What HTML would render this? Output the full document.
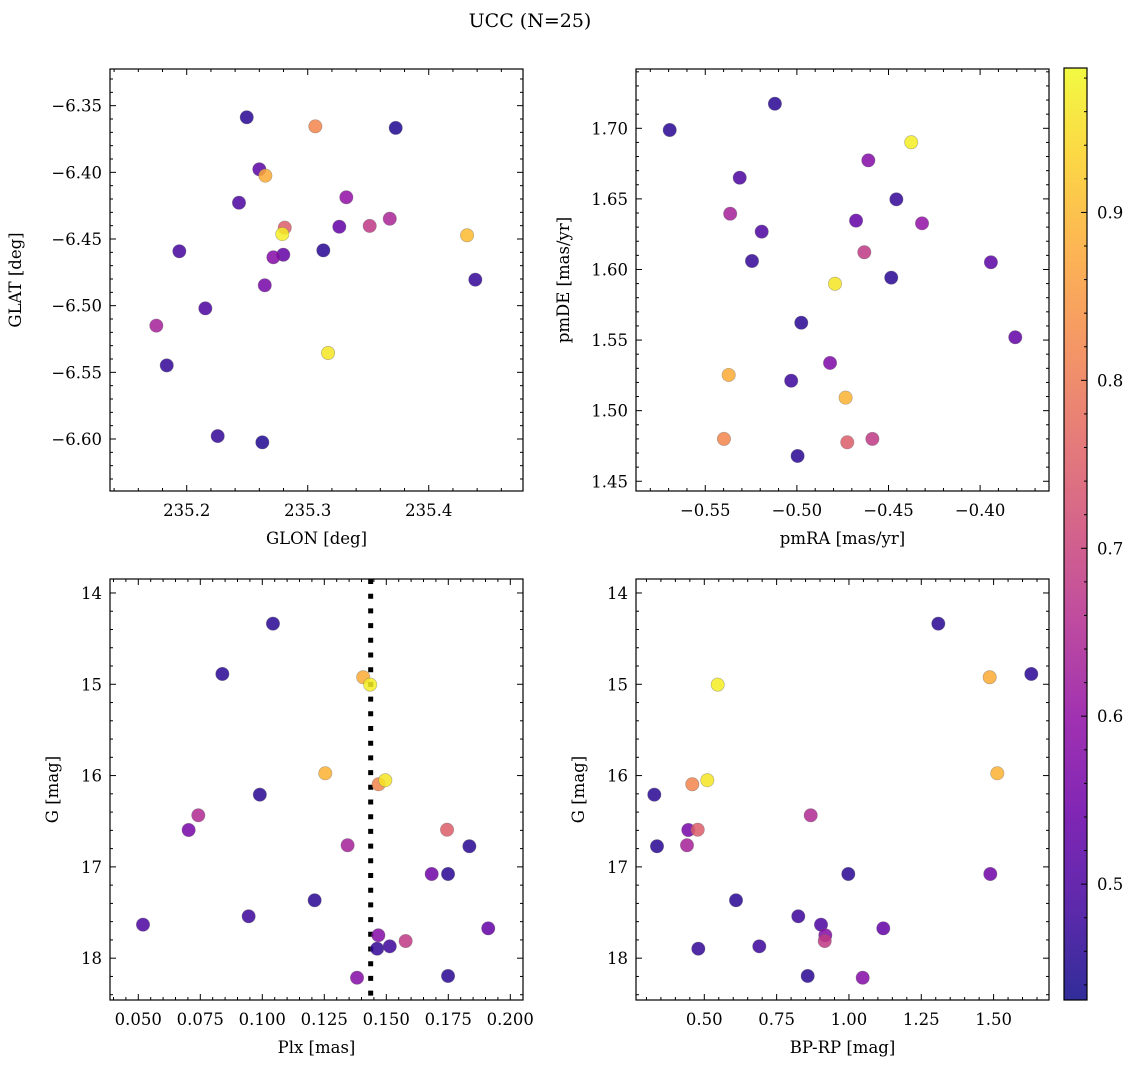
<!DOCTYPE html>
<html><head><meta charset="utf-8">
<style>
html,body{margin:0;padding:0;background:#fff;}
svg{display:block;font-family:"DejaVu Serif","Liberation Serif",serif;}
</style></head>
<body>
<svg id="chart" width="1136" height="1068" viewBox="0 0 1136 1068" xmlns="http://www.w3.org/2000/svg">
<text x="530" y="27" text-anchor="middle" font-size="19">UCC (N=25)</text>
</svg>
<script>
// ---------- data ----------
const glon = [235.2496,235.3063,235.3727,235.2600,235.2650,235.3319,235.2432,235.2810,235.3261,235.3512,235.3678,235.2790,235.4317,235.1939,235.2798,235.2716,235.3129,235.4385,235.2645,235.2154,235.1749,235.3168,235.1835,235.2256,235.2625];
const glat = [-6.3587,-6.3655,-6.3667,-6.3977,-6.4025,-6.4187,-6.4228,-6.4415,-6.4408,-6.4402,-6.4348,-6.4463,-6.4472,-6.4592,-6.4618,-6.4637,-6.4585,-6.4805,-6.4847,-6.5020,-6.5150,-6.5355,-6.5448,-6.5978,-6.6025];
const probSky = [0.46,0.82,0.45,0.52,0.88,0.60,0.50,0.75,0.53,0.68,0.64,0.97,0.90,0.49,0.53,0.58,0.46,0.47,0.56,0.50,0.63,0.96,0.47,0.47,0.45];

const pmra = [-0.5694,-0.5120,-0.4376,-0.4610,-0.5312,-0.4457,-0.5364,-0.4677,-0.4317,-0.5192,-0.4632,-0.5245,-0.3941,-0.4792,-0.4485,-0.4976,-0.3808,-0.4819,-0.5372,-0.5031,-0.4734,-0.5398,-0.4725,-0.4588,-0.4996];
const pmde = [1.6988,1.7174,1.6901,1.6773,1.6650,1.6497,1.6395,1.6346,1.6327,1.6268,1.6122,1.6060,1.6051,1.5899,1.5942,1.5623,1.5520,1.5338,1.5253,1.5212,1.5092,1.4800,1.4776,1.4800,1.4679];
const probPm = [0.46,0.46,0.97,0.58,0.50,0.47,0.63,0.53,0.60,0.50,0.68,0.47,0.52,0.96,0.46,0.46,0.53,0.57,0.88,0.48,0.89,0.82,0.75,0.68,0.46];

const plx = [0.1043,0.0839,0.1407,0.1435,0.1254,0.1469,0.1496,0.0990,0.0742,0.0703,0.1745,0.1344,0.1835,0.1683,0.1749,0.1211,0.0945,0.0519,0.1911,0.1468,0.1578,0.1514,0.1463,0.1382,0.1749];
const gmag = [14.336,14.887,14.923,15.004,15.975,16.095,16.051,16.209,16.435,16.596,16.593,16.763,16.774,17.078,17.078,17.366,17.541,17.633,17.673,17.749,17.812,17.870,17.896,18.214,18.195];
const bprp = [1.3089,1.6303,1.4865,0.5463,1.5128,0.4585,0.5104,0.3272,0.8678,0.4447,0.4772,0.4402,0.3365,1.4886,0.9978,0.6096,0.8249,0.9034,1.1187,0.9183,0.9162,0.6901,0.4793,1.0475,0.8574];
const probPhot = [0.46,0.46,0.88,0.97,0.89,0.82,0.96,0.46,0.65,0.56,0.75,0.63,0.46,0.55,0.46,0.46,0.48,0.50,0.53,0.58,0.68,0.48,0.47,0.58,0.46];
const plxMedian = 0.1437;

const glonTicks = [235.2,235.3,235.4];
const glatTicks = [-6.60,-6.55,-6.50,-6.45,-6.40,-6.35];
const pmraTicks = [-0.55,-0.50,-0.45,-0.40];
const pmdeTicks = [1.45,1.50,1.55,1.60,1.65,1.70];
const plxTicks = [0.050,0.075,0.100,0.125,0.150,0.175,0.200];
const gTicks = [14,15,16,17,18];
const bprpTicks = [0.50,0.75,1.00,1.25,1.50];
const cbarTicks = [0.5,0.6,0.7,0.8,0.9];
const cbarMin = 0.431, cbarMax = 0.986;

// ---------- helpers ----------
const NS = "http://www.w3.org/2000/svg";
const svg = document.getElementById('chart');
function mk(tag, attrs, parent){
  const e = document.createElementNS(NS, tag);
  for (const k in attrs) e.setAttribute(k, attrs[k]);
  (parent||svg).appendChild(e);
  return e;
}
const plasma = [[13,8,135],[65,4,157],[106,0,168],[143,13,164],[177,42,144],[204,71,120],[225,100,98],[242,132,75],[252,166,54],[252,206,37],[240,249,33]];
function cmap(v){
  let t = (v - cbarMin) / (cbarMax - cbarMin);
  t = Math.max(0, Math.min(1, t)) * 10;
  const i = Math.min(9, Math.floor(t)), f = t - i;
  const a = plasma[i], b = plasma[i+1];
  return 'rgb(' + [0,1,2].map(k => Math.round(a[k] + (b[k]-a[k])*f)).join(',') + ')';
}
function fmt(v, d){ const s = Math.abs(v).toFixed(d); return (v < -1e-12 ? '\u2212' : '') + s; }

function panel(cfg){
  const g = mk('g', {});
  
  
  const {x0,x1,y0,y1} = cfg;
  const sx = v => x0 + (v - cfg.xd[0]) / (cfg.xd[1] - cfg.xd[0]) * (x1 - x0);
  const sy = v => y1 - (v - cfg.yd[0]) / (cfg.yd[1] - cfg.yd[0]) * (y1 - y0);
  const xs = cfg.xt[1] - cfg.xt[0], ys = cfg.yt[1] - cfg.yt[0];
  for (let k = -30; k < 60; k++){
    const v = cfg.xt[0] + k * xs / 5, p = sx(v);
    if (p <= x0 + 0.5 || p >= x1 - 0.5) continue;
    const L = (k % 5 === 0) ? 6 : 3;
    mk('line', {x1:p, x2:p, y1:y1, y2:y1-L, stroke:'#000', 'stroke-width':1}, g);
    mk('line', {x1:p, x2:p, y1:y0, y2:y0+L, stroke:'#000', 'stroke-width':1}, g);
  }
  for (let k = -30; k < 60; k++){
    const v = cfg.yt[0] + k * ys / 5, p = sy(v);
    if (p <= y0 + 0.5 || p >= y1 - 0.5) continue;
    const L = (k % 5 === 0) ? 6 : 3;
    mk('line', {x1:x0, x2:x0+L, y1:p, y2:p, stroke:'#000', 'stroke-width':1}, g);
    mk('line', {x1:x1, x2:x1-L, y1:p, y2:p, stroke:'#000', 'stroke-width':1}, g);
  }
  cfg.xt.forEach(v => {
    const t = mk('text', {x:sx(v), y:y1+25, 'text-anchor':'middle', 'font-size':16.5}, g);
    
    
    t.textContent = fmt(v, cfg.xdec);
  });
  cfg.yt.forEach(v => {
    const t = mk('text', {x:x0-8, y:sy(v)+6, 'text-anchor':'end', 'font-size':16.5}, g);
    
    
    t.textContent = fmt(v, cfg.ydec);
  });
  const xl = mk('text', {x:(x0+x1)/2, y:y1+53, 'text-anchor':'middle', 'font-size':16.5}, g);
  
  
  xl.textContent = cfg.xlabel;
  const yl = mk('text', {x:cfg.ylx, y:(y0+y1)/2, 'text-anchor':'middle', 'font-size':16.5, transform:'rotate(-90 '+cfg.ylx+' '+((y0+y1)/2)+')'}, g);
  
  
  yl.textContent = cfg.ylabel;
  if (cfg.vline !== undefined){
    const l = mk('line', {x1:sx(cfg.vline), x2:sx(cfg.vline), y1:y0, y2:y1, stroke:'#000', 'stroke-width':5, 'stroke-dasharray':'5 9.7'}, g);
    
    
  }
  cfg.xs.forEach((xv, i) => {
    const c = mk('circle', {cx:sx(xv), cy:sy(cfg.ys[i]), r:6.7, fill:cmap(cfg.cs[i]), 'fill-opacity':0.85, stroke:'#666', 'stroke-opacity':0.5, 'stroke-width':0.6}, g);
    
    
  });
  const fr = mk('rect', {x:x0, y:y0, width:x1-x0, height:y1-y0, fill:'none', stroke:'#000', 'stroke-width':1.2}, g);
  
  
}

panel({name:'sky-panel', x0:110, x1:523, y0:69, y1:491, xd:[235.1366,235.4779], yd:[-6.639,-6.3225],
  xt:glonTicks, yt:glatTicks, xdec:1, ydec:2, xs:glon, ys:glat, cs:probSky, xlabel:'GLON [deg]', ylabel:'GLAT [deg]', ylx:21});
panel({name:'proper-motion-panel', x0:636, x1:1049, y0:69, y1:491, xd:[-0.5878,-0.3624], yd:[1.4431,1.742],
  xt:pmraTicks, yt:pmdeTicks, xdec:2, ydec:2, xs:pmra, ys:pmde, cs:probPm, xlabel:'pmRA [mas/yr]', ylabel:'pmDE [mas/yr]', ylx:569});
panel({name:'parallax-panel', x0:110, x1:523, y0:579, y1:1000, xd:[0.03859,0.20512], yd:[18.458,13.847],
  xt:plxTicks, yt:gTicks, xdec:3, ydec:0, xs:plx, ys:gmag, cs:probPhot, xlabel:'Plx [mas]', ylabel:'G [mag]', ylx:58, vline:plxMedian});
panel({name:'cmd-panel', x0:636, x1:1049, y0:579, y1:1000, xd:[0.2639,1.6915], yd:[18.458,13.847],
  xt:bprpTicks, yt:gTicks, xdec:2, ydec:0, xs:bprp, ys:gmag, cs:probPhot, xlabel:'BP-RP [mag]', ylabel:'G [mag]', ylx:584});

// ---------- colorbar ----------
const cb = mk('g', {});


const cbx = 1064, cbw = 23, cby0 = 68, cby1 = 1000;
const defs = mk('defs', {}, cb);
const grad = mk('linearGradient', {id:'cbg', x1:0, y1:1, x2:0, y2:0}, defs);
for (let i = 0; i <= 20; i++){
  const v = cbarMin + (cbarMax - cbarMin) * i / 20;
  mk('stop', {offset:(i/20), 'stop-color':cmap(v)}, grad);
}
mk('rect', {x:cbx, y:cby0, width:cbw, height:cby1-cby0, fill:'url(#cbg)', 'fill-opacity':0.85}, cb);
const cys = v => cby1 - (v - cbarMin) / (cbarMax - cbarMin) * (cby1 - cby0);
for (let k = 0; k < 40; k++){
  const v = 0.44 + k * 0.02;
  if (v > cbarMax) break;
  const major = Math.abs(Math.round(v*10) - v*10) < 1e-6;
  mk('line', {x1:cbx+cbw, x2:cbx+cbw-(major?6:3), y1:cys(v), y2:cys(v), stroke:'#000', 'stroke-width':1}, cb);
}
cbarTicks.forEach(v => {
  const t = mk('text', {x:cbx+cbw+10, y:cys(v)+6, 'font-size':16.5}, cb);
  
  
  t.textContent = v.toFixed(1);
});
mk('rect', {x:cbx, y:cby0, width:cbw, height:cby1-cby0, fill:'none', stroke:'#000', 'stroke-width':1.2}, cb);
</script>
</body></html>
